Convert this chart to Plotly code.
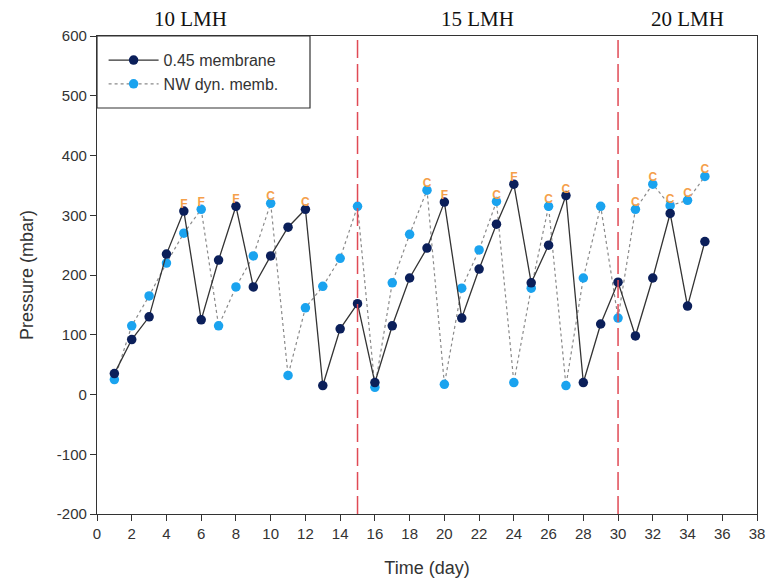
import plotly.graph_objects as go

days = list(range(1, 36))
membrane_045 = [35, 92, 130, 235, 307, 125, 225, 315, 180, 232, 280, 310, 15, 110, 152,
                20, 115, 195, 245, 322, 128, 210, 285, 352, 187, 250, 333, 20, 118, 188,
                98, 195, 303, 148, 256]
nw_dyn = [25, 115, 165, 220, 270, 310, 115, 180, 232, 320, 32, 145, 181, 228, 315,
          12, 187, 268, 342, 17, 178, 242, 323, 20, 178, 315, 15, 195, 315, 128,
          310, 352, 316, 325, 365]
# orange flags: (day, value, letter)
flag_days = [5, 6, 8, 10, 12, 19, 20, 23, 24, 26, 27, 31, 32, 33, 34, 35]
flag_vals = [307, 310, 315, 320, 310, 342, 322, 323, 352, 315, 333, 310, 352, 316, 325, 365]
flag_text = ["F", "F", "F", "C", "C", "C", "F", "C", "F", "C", "C", "C", "C", "C", "C", "C"]
phase_x = [15, 30]
phase_labels = ["10 LMH", "15 LMH", "20 LMH"]
phase_label_x = [5.4, 21.9, 34.0]
y_ticks = list(range(-200, 601, 100))
y_ticktext = [str(v) for v in y_ticks]
x_ticks = list(range(0, 39, 2))

fig = go.Figure()
fig.add_trace(go.Scatter(
    x=days, y=nw_dyn, mode="lines+markers", name="NW dyn. memb.",
    line=dict(color="#8a8a8a", width=1.2, dash="dot"),
    marker=dict(color="#1aa3ef", size=9.5)))
fig.add_trace(go.Scatter(
    x=days, y=membrane_045, mode="lines+markers", name="0.45 membrane",
    line=dict(color="#333333", width=1.3),
    marker=dict(color="#0b1f5a", size=9.5)))
fig.add_trace(go.Scatter(
    x=flag_days, y=flag_vals, mode="text", text=["<b>" + t + "</b>" for t in flag_text],
    textposition="top center",
    textfont=dict(color="#f5a04a", size=12, family="Liberation Sans, Arial"),
    showlegend=False, hoverinfo="skip"))

for px in phase_x:
    fig.add_shape(type="line", x0=px, x1=px, y0=-200, y1=600, xref="x", yref="y",
                  line=dict(color="#e04a55", width=1.5, dash="18px,6px"))

for lx, lt in zip(phase_label_x, phase_labels):
    fig.add_annotation(x=lx, y=1.036, xref="x", yref="paper", text=lt, showarrow=False,
                       yanchor="middle",
                       font=dict(family="Liberation Serif, Times New Roman, serif", size=21, color="#111"))

# legend frame
fig.add_shape(type="rect", xref="paper", yref="paper", x0=0, x1=(310 - 97) / 660,
              y0=(514 - 108) / 478, y1=1, line=dict(color="#333", width=1.2),
              fillcolor="white", layer="below")

fig.update_layout(
    width=768, height=588, plot_bgcolor="white", paper_bgcolor="white",
    margin=dict(l=97, r=11, t=36, b=74, autoexpand=False),
    font=dict(family="Liberation Sans, Arial, sans-serif", color="#333", size=13),
    legend=dict(x=0.01, y=0.985, xanchor="left", yanchor="top", traceorder="reversed",
                borderwidth=0, bgcolor="rgba(0,0,0,0)", itemwidth=50, tracegroupgap=0,
                font=dict(size=16, color="#333")),
    xaxis=dict(range=[0, 38], tickmode="array", tickvals=x_ticks, automargin=False,
               ticks="outside", ticklen=6, tickcolor="#333", showgrid=False, zeroline=False,
               showline=True, linecolor="#333", linewidth=1.2, mirror=True,
               title=dict(text="Time (day)", font=dict(size=18, color="#333"), standoff=20),
               tickfont=dict(size=15)),
    yaxis=dict(range=[-200, 600], tickmode="array", tickvals=y_ticks, ticktext=y_ticktext,
               automargin=False,
               ticks="outside", ticklen=6, tickcolor="#333", showgrid=False, zeroline=False,
               showline=True, linecolor="#333", linewidth=1.2, mirror=True,
               title=dict(text="Pressure (mbar)", font=dict(size=18, color="#333"), standoff=18),
               tickfont=dict(size=15)),
)

fig.write_html("out.html")
